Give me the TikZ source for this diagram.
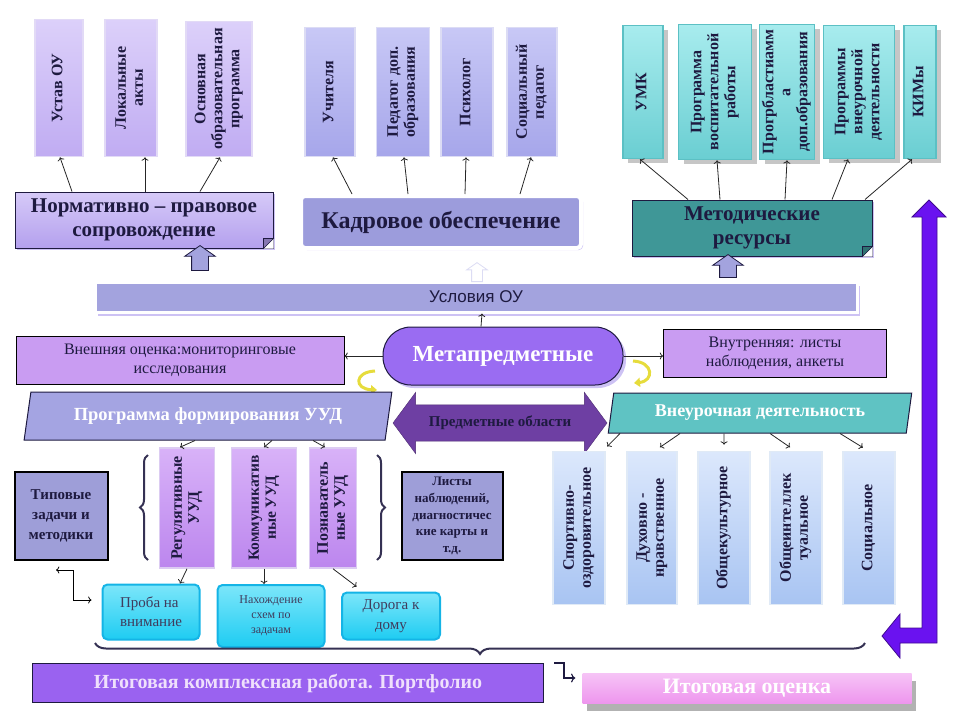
\documentclass[tikz,border=0pt]{standalone}
\usepackage{fontspec}
\setmainfont{Liberation Serif}
\newfontfamily\uslfont{Liberation Sans}
\usepackage{graphicx}
\usetikzlibrary{shapes.geometric,shapes.arrows,shadows,decorations.pathreplacing,arrows.meta}

\definecolor{ink}{HTML}{1E1A40}
\definecolor{lavtop}{HTML}{DCD0FA}
\definecolor{lavbot}{HTML}{C0ACF2}
\definecolor{lavedge}{HTML}{E2DAF6}
\definecolor{bluetop}{HTML}{C8C8F6}
\definecolor{bluebot}{HTML}{A6A6EA}
\definecolor{blueedge}{HTML}{DCDCF4}
\definecolor{tealtop}{HTML}{A8ECEE}
\definecolor{tealbot}{HTML}{6ACED2}
\definecolor{tealedge}{HTML}{5CC0C4}
\definecolor{violtop}{HTML}{D8B2F8}
\definecolor{violbot}{HTML}{BC86EE}
\definecolor{violedge}{HTML}{DCCCF2}
\definecolor{skytop}{HTML}{DCE8FC}
\definecolor{skybot}{HTML}{A8C4F2}
\definecolor{skyedge}{HTML}{E0EAF6}
\definecolor{normtop}{HTML}{D6CAF8}
\definecolor{normbot}{HTML}{B4A0EE}
\definecolor{glow}{HTML}{B8A8F0}
\definecolor{kadrfill}{HTML}{9C9CDC}
\definecolor{metodfill}{HTML}{3F9797}
\definecolor{uslfill}{HTML}{A3A3DE}
\definecolor{metafill}{HTML}{9A6CF2}
\definecolor{evalfill}{HTML}{C99CF2}
\definecolor{progfill}{HTML}{A4A4E2}
\definecolor{predfill}{HTML}{6E3FA3}
\definecolor{vneurfill}{HTML}{5FC3C3}
\definecolor{tipfill}{HTML}{9E9ED8}
\definecolor{cyantop}{HTML}{7CE6FA}
\definecolor{cyanbot}{HTML}{1ECCF2}
\definecolor{cyanedge}{HTML}{14B4E6}
\definecolor{itogfill}{HTML}{9A62F0}
\definecolor{itogotop}{HTML}{F6C4F6}
\definecolor{itogobot}{HTML}{EE96EE}
\definecolor{bigarrow}{HTML}{6A12F0}
\definecolor{yelarrow}{HTML}{E6DC3C}

\newcommand{\vtext}[1]{\rotatebox{90}{\begin{tabular}{@{}c@{}}#1\end{tabular}}}

\tikzset{
  vbox/.style={draw=#1edge, line width=1.6pt, top color=#1top, bottom color=#1bot,
    inner sep=0pt, text=ink, font=\bfseries\fontsize{16}{17}\selectfont},
  headbox/.style={draw=ink, line width=1pt, inner sep=0pt, align=center, text=ink,
    font=\bfseries\fontsize{21}{24}\selectfont,
    drop shadow={fill=glow, opacity=.7, shadow xshift=2pt, shadow yshift=-2pt}},
  evalbox/.style={draw=black, line width=.8pt, fill=evalfill, inner sep=0pt, align=center,
    text=ink, font=\fontsize{16}{19}\selectfont},
  plank/.style={trapezium, trapezium stretches=true, draw=ink, line width=1pt, inner sep=0pt,
    text=white, font=\bfseries\fontsize{18.5}{20}\selectfont},
  methbox/.style={draw=black, line width=2pt, fill=tipfill, inner sep=0pt, align=center, text=ink},
  cyanbox/.style={draw=cyanedge, line width=2pt, rounded corners=5pt, top color=cyantop,
    bottom color=cyanbot, inner sep=0pt, align=center, text=ink!85},
  uparrow/.style={single arrow, rotate=90, single arrow head extend=7pt, single arrow tip angle=110,
    inner sep=0pt, inner ysep=8pt, draw=ink, line width=.8pt},
  conn/.style={->, line width=.8pt, draw=black!85},
  curl/.style={-{Triangle[length=6pt,width=9pt]}, line width=3pt, draw=yelarrow},
  bracket/.style={decorate, line width=2pt, draw=ink!90}
}

\begin{document}
\begin{tikzpicture}[x=1pt,y=-1pt]
  \useasboundingbox (0,0) rectangle (960,720);

  %% normative documents
  \node (ustav) at (59,88) [vbox=lav, minimum width=48pt, minimum height=137pt] {\vtext{Устав ОУ}};
  \node (lokal) at (131,88) [vbox=lav, minimum width=52pt, minimum height=137pt] {\vtext{Локальные\\акты}};
  \node (oop) at (219,89) [vbox=lav, minimum width=66pt, minimum height=135pt] {\vtext{Основная\\образовательная\\программа}};
  \node (norm) at (144,220) [headbox, top color=normtop, bottom color=normbot, minimum width=258pt, minimum height=56pt] {Нормативно – правовое\\сопровождение};

  %% staff
  \node (uchit) at (330,92) [vbox=blue, minimum width=50pt, minimum height=129pt] {\vtext{Учителя}};
  \node (pdo) at (403,92) [vbox=blue, minimum width=53pt, minimum height=129pt] {\vtext{Педагог доп.\\образования}};
  \node (psih) at (467,92) [vbox=blue, minimum width=52pt, minimum height=129pt] {\vtext{Психолог}};
  \node (socp) at (532,92) [vbox=blue, minimum width=50pt, minimum height=129pt] {\vtext{Социальный\\педагог}};
  \node (kadr) at (441,222) [headbox, fill=kadrfill, draw=white, line width=4pt, rounded corners=4pt, font=\bfseries\fontsize{24}{26}\selectfont, minimum width=280pt, minimum height=52pt] {Кадровое обеспечение};

  %% methodical resources
  \begin{scope}[every node/.append style={drop shadow={fill=gray, opacity=.45, shadow xshift=5pt, shadow yshift=-4pt}}]
    \node (umk) at (643,92) [vbox=teal, minimum width=40pt, minimum height=133pt] {\vtext{УМК}};
    \node (vosp) at (715,92) [vbox=teal, minimum width=73pt, minimum height=135pt] {\vtext{Программа\\воспитательной\\работы}};
    \node (dop) at (787,92) [vbox=teal, minimum width=55pt, minimum height=135pt] {\vtext{Прогрбластиамм\\а\\доп.образования}};
    \node (vnp) at (859,92) [vbox=teal, minimum width=71pt, minimum height=133pt] {\vtext{Программы\\внеурочной\\деятельности}};
    \node (kim) at (920,92) [vbox=teal, minimum width=32pt, minimum height=133pt] {\vtext{КИМы}};
  \end{scope}
  \node (metod) at (752,228) [headbox, fill=metodfill, minimum width=240pt, minimum height=56pt] {Методические\\ресурсы};

  %% folded corners
  \foreach \n/\c in {norm/normbot, metod/metodfill}{
    \fill[white] (\n.south east) -- ++(-10,0) -- ++(10,-10) -- cycle;
    \filldraw[fill=\c!75!black, draw=ink, line width=.6pt] ([xshift=-10pt]\n.south east) -- ++(0,-10) -- ++(10,0) -- cycle;
  }

  \draw[conn] ([xshift=-72pt]norm.north) -- ([xshift=1pt]ustav.south);
  \draw[conn] ([xshift=1pt]norm.north) -- ([xshift=14pt]lokal.south);
  \draw[conn] ([xshift=56pt]norm.north) -- ([xshift=1pt]oop.south);
  \draw[conn] ([xshift=-89pt]kadr.north) -- ([xshift=3pt]uchit.south);
  \draw[conn] ([xshift=-33pt]kadr.north) -- ([xshift=1pt]pdo.south);
  \draw[conn] ([xshift=24pt]kadr.north) -- ([xshift=-1pt]psih.south);
  \draw[conn] ([xshift=79pt]kadr.north) -- ([xshift=-1pt]socp.south);
  \draw[conn] ([xshift=-64pt]metod.north) -- ([xshift=-3pt]umk.south);
  \draw[conn] ([xshift=-32pt]metod.north) -- ([xshift=2pt]vosp.south);
  \draw[conn] ([xshift=33pt]metod.north) -- (dop.south);
  \draw[conn] ([xshift=80pt]metod.north) -- ([xshift=-11pt]vnp.south);
  \draw[conn] ([xshift=113pt]metod.north) -- ([xshift=-8pt]kim.south);

  %% conditions band
  \node (usl) at (476,297) [fill=uslfill, draw=white, line width=3pt, minimum width=762pt, minimum height=30pt, inner sep=0pt,
    font=\uslfont\fontsize{17}{20}\selectfont, text=ink, drop shadow={fill=glow, opacity=.7, shadow xshift=3pt, shadow yshift=-4pt}] {\raisebox{-3pt}{Условия ОУ}};
  \node (upA) at (200,261) [uparrow, fill=uslfill, minimum height=25pt] {};
  \node (upB) at (728,269) [uparrow, fill=uslfill, minimum height=23pt] {};
  \node (upC) at (477,274) [uparrow, fill=white, draw=blueedge, minimum height=19pt, inner ysep=5pt, single arrow head extend=5pt] {};

  %% meta-subject results
  \node (meta) at (503,356) [draw=ink, line width=1pt, fill=metafill, rounded corners=28pt, minimum width=240pt, minimum height=58pt,
    inner sep=0pt, text=white, font=\bfseries\fontsize{23}{26}\selectfont,
    drop shadow={fill=glow, opacity=.7, shadow xshift=3pt, shadow yshift=-3pt}] {Метапредметные};
  \node (vnesh) at (180,360) [evalbox, minimum width=328pt, minimum height=48pt] {Внешняя оценка:мониторинговые\\исследования};
  \node (vnutr) at (775,353) [evalbox, minimum width=223pt, minimum height=48pt] {Внутренняя: листы\\наблюдения, анкеты};
  \draw[conn] (meta.west) -- (meta.west -| vnesh.east);
  \draw[conn] (meta.east) -- (meta.east -| vnutr.west);
  \draw[conn] ([xshift=-22pt]meta.north) -- ([xshift=6pt]usl.south);
  \draw[curl] (375,371) .. controls (354,372) and (354,389) .. (377,390);
  \draw[curl] (633,361) .. controls (654,362) and (654,381) .. (634,383);

  %% programmes
  \node (prog) at (208,416) [plank, fill=progfill, trapezium left angle=73, trapezium right angle=107, minimum width=368pt, minimum height=48pt] {Программа формирования УУД};
  \node (vneur) at (760,413) [plank, fill=vneurfill, trapezium left angle=76, trapezium right angle=104, minimum width=304pt, minimum height=40pt, font=\bfseries\fontsize{18}{20}\selectfont] {Внеурочная деятельность};
  \node (predm) at (500,423) [double arrow, double arrow head extend=12.5pt, double arrow tip angle=107, minimum height=214pt,
    inner xsep=0pt, inner ysep=11pt, fill=predfill, draw=predfill!70!black, text=ink, font=\bfseries\fontsize{15}{17}\selectfont] {Предметные области};

  %% universal learning actions
  \node (reg) at (187,508) [vbox=viol, minimum width=55pt, minimum height=120pt] {\vtext{Регулятивные\\УУД}};
  \node (komm) at (264,508) [vbox=viol, minimum width=65pt, minimum height=120pt, font=\bfseries\fontsize{15.5}{17}\selectfont] {\vtext{Коммуникатив\\ные УУД}};
  \node (pozn) at (333,508) [vbox=viol, minimum width=47pt, minimum height=120pt] {\vtext{Познаватель\\ные УУД}};
  \draw[bracket, decoration={brace, amplitude=8pt}] (148,560) -- (148,455);
  \draw[bracket, decoration={brace, amplitude=8pt}] (377,455) -- (377,560);
  \node (tipov) at (61,516) [methbox, minimum width=93pt, minimum height=88pt, font=\bfseries\fontsize{15}{20}\selectfont] {Типовые\\задачи и\\методики};
  \node (listy) at (452,516) [methbox, minimum width=101pt, minimum height=88pt, font=\bfseries\fontsize{13}{16.7}\selectfont] {Листы\\наблюдений,\\диагностичес\\кие карты и\\т.д.};
  \draw[conn] ([xshift=-13pt]prog.south) -- ([xshift=-7pt]reg.north);
  \draw[conn] ([xshift=64pt]prog.south) -- (komm.north);
  \draw[conn] ([xshift=105pt]prog.south) -- ([xshift=-8pt]pozn.north);

  %% tasks
  \node (proba) at (151,612) [cyanbox, minimum width=97pt, minimum height=55pt, align=left, font=\fontsize{15}{19}\selectfont] {Проба на\\внимание};
  \node (nahozh) at (271,616) [cyanbox, minimum width=107pt, minimum height=62pt, font=\fontsize{12}{15}\selectfont] {Нахождение\\схем по\\задачам};
  \node (doroga) at (391,616) [cyanbox, minimum width=98pt, minimum height=47pt, font=\fontsize{15}{20}\selectfont] {Дорога к\\дому};
  \draw[conn] (reg.south) -- ([xshift=29pt]proba.north);
  \draw[conn] (komm.south) -- ([xshift=-7pt]nahozh.north);
  \draw[conn, shorten >=8pt] (pozn.south) -- ([xshift=-28pt]doroga.north);
  \draw[<->, line width=.8pt] ([shift={(-5pt,-9pt)}]tipov.south) -- ++(17,0) |- ([shift={(-10pt,12pt)}]proba.west);

  %% extracurricular directions
  \node (sport) at (579,528) [vbox=sky, minimum width=52pt, minimum height=153pt] {\vtext{Спортивно-\\оздоровительное}};
  \node (duh) at (652,528) [vbox=sky, minimum width=50pt, minimum height=153pt] {\vtext{Духовно -\\нравственное}};
  \node (obk) at (724,528) [vbox=sky, minimum width=52pt, minimum height=153pt] {\vtext{Общекультурное}};
  \node (obi) at (796,528) [vbox=sky, minimum width=52pt, minimum height=153pt] {\vtext{Общеинтеллек\\туальное}};
  \node (soc) at (869,528) [vbox=sky, minimum width=52pt, minimum height=153pt] {\vtext{Социальное}};
  \draw[conn, shorten >=6pt] ([xshift=-140pt]vneur.south) -- ([xshift=24pt]sport.north);
  \draw[conn, shorten >=6pt] ([xshift=-80pt]vneur.south) -- ([xshift=3pt]duh.north);
  \draw[conn, shorten >=6pt] ([xshift=-36pt]vneur.south) -- (obk.north);
  \draw[conn, shorten >=6pt] ([xshift=10pt]vneur.south) -- ([xshift=-1pt]obi.north);
  \draw[conn, shorten >=6pt] ([xshift=80pt]vneur.south) -- ([xshift=-1pt]soc.north);

  %% results
  \draw[bracket, decoration={brace, amplitude=11pt}] (865,643) -- (95,643);
  \node (itog) at (288,683) [fill=itogfill, draw=ink, line width=1pt, minimum width=511pt, minimum height=39pt, inner sep=0pt,
    text=violtop!40!white, font=\bfseries\fontsize{20}{22}\selectfont] {Итоговая комплексная работа. Портфолио};
  \node (itogo) at (747,688) [top color=itogotop, bottom color=itogobot, minimum width=329pt, minimum height=30pt, inner sep=0pt,
    text=white, font=\bfseries\fontsize{22}{22}\selectfont, drop shadow={fill=black!60, opacity=.5, shadow xshift=4pt, shadow yshift=-8pt}] {Итоговая оценка};
  \draw[->, line width=1.2pt, draw=ink, shorten >=7pt] ([xshift=10pt]itog.north east) -- ++(10,0) |- ([yshift=10pt]itogo.west);

  %% big arrow on the right
  \filldraw[fill=bigarrow, draw=bigarrow!60!black, line width=.8pt]
    (929,200) -- (946,217) -- (937,217) -- (937,643) -- (900,643) -- (900,658) -- (882,636)
    -- (900,614) -- (900,628) -- (922,628) -- (922,217) -- (912,217) -- cycle;
\end{tikzpicture}
\end{document}
